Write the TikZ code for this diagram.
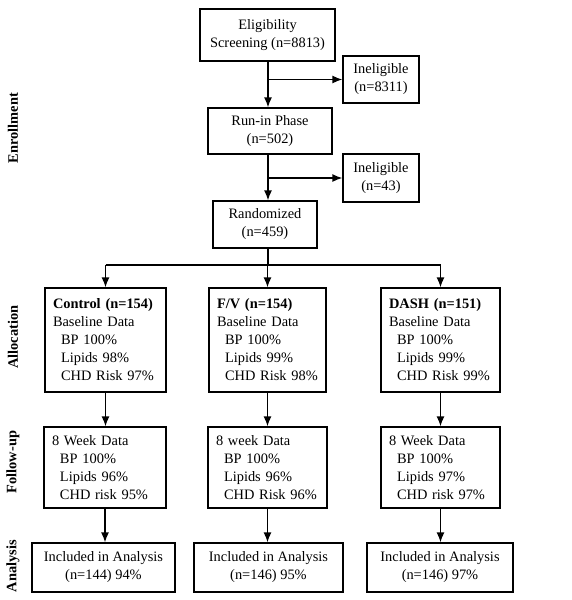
\documentclass[tikz,border=0pt]{standalone}
\usepackage{fontspec}
\setmainfont{Liberation Serif}
\usetikzlibrary{arrows,arrows.meta,calc,positioning}
\tikzset{
  kasten/.style={draw,line width=1.3pt,align=center,inner sep=2pt,
    font=\fontsize{14.4}{18}\selectfont},
  armkasten/.style={kasten,align=left,inner xsep=8pt,text width=#1},
  pfeil/.style={line width=1.3pt,-{Latex[length=10pt,width=8pt]}},
  linie/.style={line width=1.3pt},
  phase/.style={rotate=90,font=\fontsize{14.4}{18}\selectfont\bfseries}
}
\begin{document}
\begin{tikzpicture}[x=1pt,y=-1pt]
\useasboundingbox (0,0) rectangle (571,600);
%Enrollment
\node[kasten,minimum width=135pt,minimum height=52pt] (elig) at (267.5,35) {Eligibility\\Screening (n=8813)};
\node[kasten,minimum width=76pt,minimum height=47pt] (inel1) at (381,79.5) {Ineligible\\(n=8311)};
\node[kasten,minimum width=124pt,minimum height=46pt] (runin) at (270,131) {Run-in Phase\\(n=502)};
\node[kasten,minimum width=76pt,minimum height=48pt] (inel2) at (381,178) {Ineligible\\(n=43)};
\node[kasten,minimum width=104pt,minimum height=47pt] (rand) at (265,224.5) {Randomized\\(n=459)};
\coordinate (split) at (268,265);
%Allocation
\node[armkasten=105pt,minimum height=104pt] (ctl) at (105.5,340) {\textbf{Control (n=154)}\\Baseline Data\\\hspace*{8pt}BP 100\%\\\hspace*{8pt}Lipids 98\%\\\hspace*{8pt}CHD Risk 97\%};
\node[armkasten=101pt,minimum height=104pt] (fv) at (267.5,340) {\textbf{F/V (n=154)}\\Baseline Data\\\hspace*{8pt}BP 100\%\\\hspace*{8pt}Lipids 99\%\\\hspace*{8pt}CHD Risk 98\%};
\node[armkasten=103pt,minimum height=104pt] (dash) at (440.5,340) {\textbf{DASH (n=151)}\\Baseline Data\\\hspace*{8pt}BP 100\%\\\hspace*{8pt}Lipids 99\%\\\hspace*{8pt}CHD Risk 99\%};
%Follow-up
\node[armkasten=106pt,minimum height=81pt] (ctlfu) at (105,467.5) {8 Week Data\\\hspace*{8pt}BP 100\%\\\hspace*{8pt}Lipids 96\%\\\hspace*{8pt}CHD risk 95\%};
\node[armkasten=103pt,minimum height=81pt] (fvfu) at (267.5,467.5) {8 week Data\\\hspace*{8pt}BP 100\%\\\hspace*{8pt}Lipids 96\%\\\hspace*{8pt}CHD Risk 96\%};
\node[armkasten=103pt,minimum height=81pt] (dashfu) at (440.5,467.5) {8 Week Data\\\hspace*{8pt}BP 100\%\\\hspace*{8pt}Lipids 97\%\\\hspace*{8pt}CHD risk 97\%};
%Analysis
\node[kasten,minimum width=143pt,minimum height=49pt] (ctlan) at (103.5,567.5) {Included in Analysis\\(n=144) 94\%};
\node[kasten,minimum width=149pt,minimum height=49pt] (fvan) at (268.5,567.5) {Included in Analysis\\(n=146) 95\%};
\node[kasten,minimum width=146pt,minimum height=49pt] (dashan) at (440,567.5) {Included in Analysis\\(n=146) 97\%};
%Phasen
\node[phase] (enr) at (13,128) {Enrollment};
\node[phase] (all) at (13,337) {Allocation};
\node[phase] (fol) at (13,462) {Follow-up};
\node[phase] (ana) at (13,566) {Analysis};
%Pfeile
\draw[pfeil] (split |- elig.south) -- (split |- runin.north);
\draw[pfeil] (split |- inel1.west) -- (inel1.west);
\draw[pfeil] (split |- runin.south) -- (split |- rand.north);
\draw[pfeil] (split |- inel2.west) -- (inel2.west);
\draw[linie] (split |- rand.south) -- (split);
\draw[linie] (split -| ctl.north) -- (split -| dash.north);
\foreach \a in {ctl,fv,dash}{
  \draw[pfeil] (split -| \a.north) -- (\a.north);
  \draw[pfeil] (\a.south) -- (\a.south |- \a fu.north);
  \draw[pfeil] (\a fu.south) -- (\a fu.south |- \a an.north);
}
\end{tikzpicture}
\end{document}
